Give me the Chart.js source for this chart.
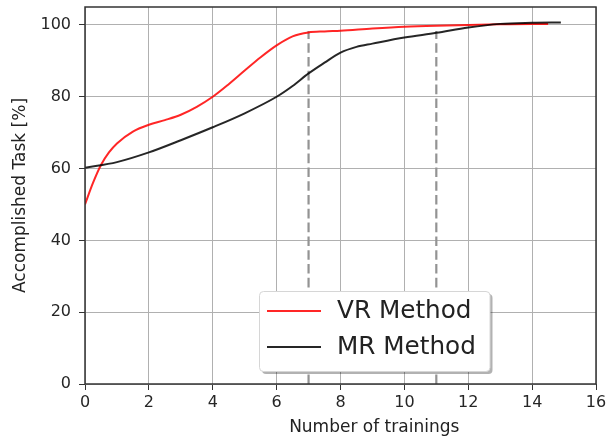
<!DOCTYPE html>
<html lang="en">
  <head>
    <title>Accomplished task chart</title>
    <meta charset="UTF-8" />
    <script src="https://cdn.jsdelivr.net/npm/chart.js"></script>
    <style>
      html, body { margin: 0; padding: 0; background: #fff; }
      #wrap { width: 607px; height: 439px; }
    </style>
  </head>
  <body>
    <div id="wrap"><canvas id="chart"></canvas></div>
    <script>
      // VR method curve
      const vrX = [0, 0.25, 0.5, 0.75, 1, 1.5, 2, 2.5, 3, 3.5, 4, 4.5, 5, 5.5, 6, 6.5, 7, 7.5, 8, 9, 10, 11, 12, 13, 14, 14.5];
      const vrY = [50, 56, 61, 64.5, 67, 70.3, 72.2, 73.5, 75, 77.2, 80, 83.5, 87.3, 91, 94.3, 96.8, 97.9, 98.2, 98.4, 99, 99.5, 99.8, 100, 100.2, 100.3, 100.3];

      // MR method curve
      const mrX = [0, 1, 2, 3, 4, 5, 6, 6.5, 7, 7.5, 8, 8.5, 9, 10, 11, 12, 13, 14, 14.9];
      const mrY = [60.2, 61.8, 64.5, 67.9, 71.5, 75.4, 80, 83, 86.5, 89.5, 92.3, 93.9, 94.8, 96.5, 97.8, 99.3, 100.3, 100.6, 100.7];

      // dashed markers
      const markX = [7, 11];
      const markTop = [98.3, 98.3];

      const seriesNames = ['VR Method', 'MR Method'];
      const xTitle = 'Number of trainings';
      const yTitle = 'Accomplished Task [%]';

      const toPts = (xs, ys) => xs.map((x, i) => ({ x: x, y: ys[i] }));
      const font = 'DejaVu Sans';

      const markSets = markX.map((mx, i) => ({
        label: 'mark' + i,
        data: [{ x: mx, y: 0 }, { x: mx, y: markTop[i] }],
        borderColor: '#939393',
        borderWidth: 2.2,
        borderDash: [9.6, 4.2],
        pointRadius: 0,
        order: 3,
      }));

      // frame + legend box like matplotlib
      const framePlugin = {
        id: 'frame',
        afterDatasetsDraw(chart) {
          const { ctx, chartArea: a } = chart;
          ctx.save();
          ctx.strokeStyle = '#333';
          ctx.lineWidth = 1.5;
          ctx.strokeRect(a.left, a.top, a.right - a.left, a.bottom - a.top);
          ctx.restore();
        },
        afterDraw(chart) {
          const { ctx, chartArea: a } = chart;
          ctx.save();
          // x title (sits a bit right of center in the reference)
          ctx.fillStyle = '#222';
          ctx.font = '17px ' + font;
          ctx.textAlign = 'center';
          ctx.textBaseline = 'middle';
          ctx.fillText(xTitle, a.left + (a.right - a.left) * 0.566, 428);

          // legend
          const bx = 259.5, by = 291.5, bw = 230.5, bh = 80;
          const r = 4;
          const rr = (x, y, w, h) => {
            ctx.beginPath();
            ctx.moveTo(x + r, y);
            ctx.arcTo(x + w, y, x + w, y + h, r);
            ctx.arcTo(x + w, y + h, x, y + h, r);
            ctx.arcTo(x, y + h, x, y, r);
            ctx.arcTo(x, y, x + w, y, r);
            ctx.closePath();
          };
          ctx.fillStyle = 'rgba(0,0,0,0.3)';
          rr(bx + 2.5, by + 2.5, bw, bh);
          ctx.fill();
          ctx.fillStyle = '#fff';
          rr(bx, by, bw, bh);
          ctx.fill();
          ctx.strokeStyle = '#d6d6d6';
          ctx.lineWidth = 1;
          ctx.stroke();

          const items = chart.data.datasets.filter(d => seriesNames.includes(d.label));
          items.forEach((d, i) => {
            const y = 311 + i * 36;
            ctx.strokeStyle = d.borderColor;
            ctx.lineWidth = 2;
            ctx.beginPath();
            ctx.moveTo(267, y);
            ctx.lineTo(321, y);
            ctx.stroke();
            ctx.fillStyle = '#222';
            ctx.font = '24.7px ' + font;
            ctx.textAlign = 'left';
            ctx.textBaseline = 'middle';
            ctx.fillText(d.label, 337, y + 1);
          });
          ctx.restore();
        },
      };

      const ctx = document.getElementById('chart').getContext('2d');
      const chart = new Chart(ctx, {
        type: 'line',
        data: {
          datasets: [
            ...markSets,
            {
              label: seriesNames[0],
              data: toPts(vrX, vrY),
              borderColor: 'rgba(255, 0, 0, 0.85)',
              borderWidth: 2,
              pointRadius: 0,
              cubicInterpolationMode: 'monotone',
              order: 2,
            },
            {
              label: seriesNames[1],
              data: toPts(mrX, mrY),
              borderColor: 'rgba(0, 0, 0, 0.85)',
              borderWidth: 2,
              pointRadius: 0,
              cubicInterpolationMode: 'monotone',
              order: 1,
            },
          ],
        },
        options: {
          responsive: true,
          maintainAspectRatio: false,
          animation: false,
          layout: { padding: { top: 7, right: 11, left: 0, bottom: 0 } },
          plugins: {
            legend: { display: false },
            tooltip: { enabled: false },
          },
          scales: {
            x: {
              type: 'linear',
              min: 0,
              max: 16,
              ticks: {
                stepSize: 2,
                color: '#262626',
                font: { family: font, size: 16 },
                padding: 3,
              },
              grid: { color: '#b0b0b0', tickColor: '#333', tickLength: 6, lineWidth: 1 },
              border: { display: false },
              afterFit(scale) {
                scale.height = 55;
                scale.paddingLeft = 0;
                scale.paddingRight = 0;
              },
            },
            y: {
              min: 0,
              max: 105,
              ticks: {
                stepSize: 20,
                includeBounds: false,
                color: '#262626',
                font: { family: font, size: 16 },
                padding: 8,
              },
              grid: { color: '#b0b0b0', tickColor: '#333', tickLength: 6, lineWidth: 1 },
              border: { display: false },
              title: {
                display: true,
                text: yTitle,
                color: '#222',
                font: { family: font, size: 17 },
                padding: { top: 10 },
              },
              afterFit(scale) {
                scale.width = 85;
                scale.paddingTop = 0;
                scale.paddingBottom = 0;
              },
            },
          },
        },
        plugins: [framePlugin],
      });
    </script>
  </body>
</html>
